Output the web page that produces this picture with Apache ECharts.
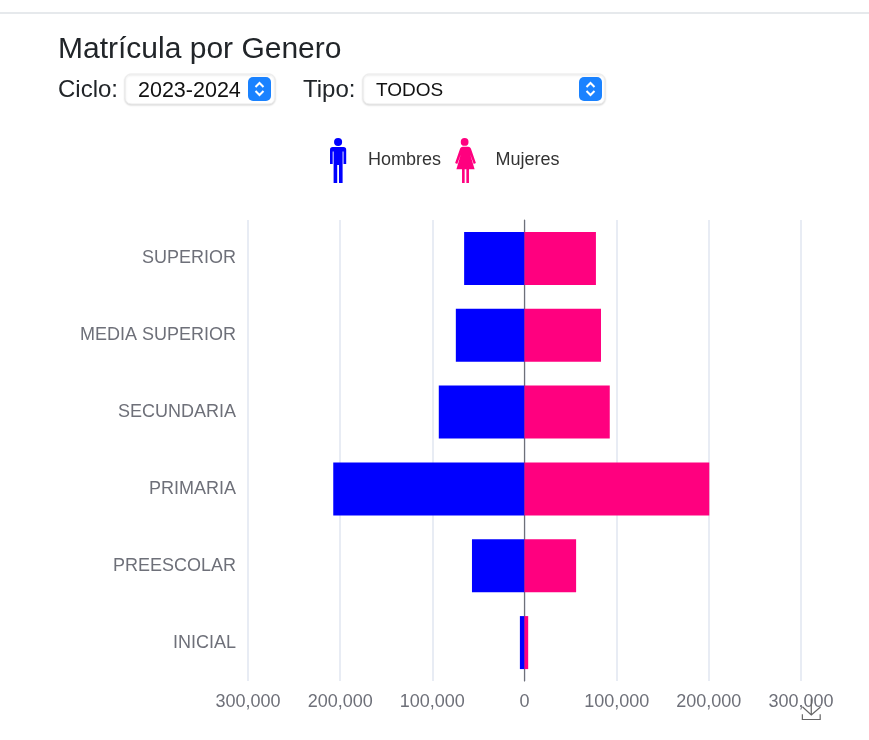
<!DOCTYPE html>
<html><head><meta charset="utf-8">
<script src="https://cdn.jsdelivr.net/npm/echarts@6/dist/echarts.min.js"></script>
<style>html,body{margin:0;padding:0;background:#fff}#c{width:869px;height:740px}</style>
</head><body><div id="c"></div>
<script>
const categories = ['INICIAL','PREESCOLAR','PRIMARIA','SECUNDARIA','MEDIA SUPERIOR','SUPERIOR'];
const hombres = [-5000,-57000,-207500,-93000,-74500,-65500];
const mujeres = [4000,56000,200500,92500,83000,77500];
const seriesNames = ['Hombres','Mujeres'];
const FONT = '"Liberation Sans", Arial, sans-serif';
const manIcon = 'path://M12,0a4.5,4.5 0 1 1 -0.01,0z M6,10h12a3,3 0 0 1 3,3v16h-3v-14h-1v35h-4v-20h-2v20h-4v-35h-1v14h-3v-16a3,3 0 0 1 3,-3z';
const womanIcon = 'path://M12,0a4.5,4.5 0 1 1 -0.01,0z M8,10h8c2,0 3,1 3.5,3l5.5,16l-2.5,1l-4,-11l5,17h-6.5v16h-3v-16h-2v16h-3v-16h-6.5l5,-17l-4,11l-2.5,-1l5.5,-16c.5,-2 1.5,-3 3.5,-3z';

function stepper(x, y) {
  return [
    {type:'rect', shape:{x:x,y:y,width:23,height:24,r:5}, style:{fill:'#1a82ff'}, z:3},
    {type:'polyline', shape:{points:[[x+7.5,y+10],[x+11.5,y+6],[x+15.5,y+10]]}, style:{stroke:'#fff',lineWidth:2,fill:null}, z:4},
    {type:'polyline', shape:{points:[[x+7.5,y+14],[x+11.5,y+18],[x+15.5,y+14]]}, style:{stroke:'#fff',lineWidth:2,fill:null}, z:4}
  ];
}
function box(x, w) {
  return {type:'rect', shape:{x:x,y:74,width:w,height:30,r:6},
    style:{fill:'#fff',stroke:'#ececec',lineWidth:1,shadowBlur:2,shadowColor:'rgba(0,0,0,0.14)',shadowOffsetY:1}, z:2};
}
function label(x, y, t, size, color) {
  return {type:'text', x:x, y:y, style:{text:t,font:size+'px '+FONT,fill:color,textVerticalAlign:'middle'}, z:5};
}

const chart = echarts.init(document.getElementById('c'));
chart.setOption({
  animation:false,
  backgroundColor:'#fff',
  grid:{left:248,right:68,top:220,bottom:59,containLabel:false},
  legend:{
    left:325, top:133, itemWidth:50, itemHeight:45, itemGap:14,
    textStyle:{color:'#333',fontSize:18,fontFamily:FONT,padding:[2,0,0,0]},
    data:[{name:seriesNames[0],icon:manIcon},{name:seriesNames[1],icon:womanIcon}]
  },
  toolbox:{right:31,top:681,itemSize:21,feature:{saveAsImage:{title:' '}},iconStyle:{borderColor:'#666',borderWidth:1.2}},
  xAxis:{
    type:'value',min:-300000,max:300000,interval:100000,
    axisLine:{show:false},axisTick:{show:false},
    splitLine:{lineStyle:{color:'#e0e6f1',width:1.5}},
    axisLabel:{color:'#6e7079',fontSize:18,fontFamily:FONT,margin:12,hideOverlap:false,
      formatter:v=>Math.abs(v).toLocaleString('en-US')}
  },
  yAxis:{
    type:'category',data:categories,
    axisTick:{show:false},
    axisLine:{show:true,onZero:true,lineStyle:{color:'#6e7079',width:1.2}},
    axisLabel:{color:'#6e7079',fontSize:18,fontFamily:FONT,margin:12,padding:[4,0,0,0]},
    position:'left'
  },
  series:[
    {name:seriesNames[0],type:'bar',stack:'t',data:hombres,barWidth:53,itemStyle:{color:'#0000ff'}},
    {name:seriesNames[1],type:'bar',stack:'t',data:mujeres,barWidth:53,itemStyle:{color:'#ff007f'}}
  ],
  graphic:{elements:[
    {type:'line',shape:{x1:0,y1:13,x2:869,y2:13},style:{stroke:'#dee2e6',lineWidth:1.5}},
    label(58,50,'Matrícula por Genero',30,'#212529'),
    label(58,90,'Ciclo:',24,'#212529'),
    box(125,150),
    label(138,91,'2023-2024',21.5,'#111'),
    ...stepper(248,77),
    label(303,90,'Tipo:',24,'#212529'),
    box(363,242),
    label(376,91,'TODOS',19,'#111'),
    ...stepper(579,77)
  ]}
});
</script></body></html>
